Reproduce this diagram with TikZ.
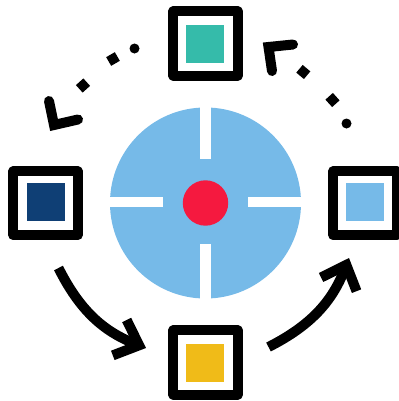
\documentclass[tikz,border=0pt]{standalone}
\usetikzlibrary{arrows.meta}
\definecolor{skyblue}{HTML}{76BAE8}
\definecolor{navyblue}{HTML}{0F3F75}
\definecolor{tealgreen}{HTML}{35BBAA}
\definecolor{amber}{HTML}{F0BB18}
\definecolor{targetred}{HTML}{F5193F}
\begin{document}
\begin{tikzpicture}[x=0.025cm,y=-0.025cm]

\tikzstyle{frame}=[shape=rectangle, draw=black, fill=white,
    line width=0.25cm, line join=round, minimum size=1.6cm, inner sep=0pt]
\tikzstyle{swatch}=[shape=rectangle, minimum size=0.95cm, inner sep=0pt]
\tikzstyle{slot}=[shape=rectangle, fill=white, inner sep=0pt]
\tikzstyle{dot}=[shape=circle, fill=black, minimum size=0.25cm, inner sep=0pt]
\tikzstyle{chip}=[shape=rectangle, fill=black, minimum size=0.25cm, inner sep=0pt]
\tikzstyle{flow}=[line width=0.25cm, >={Straight Barb[length=0.52cm,width=0.95cm,line width=0.25cm]}]
\tikzstyle{barb}=[line width=0.25cm, line cap=round, line join=miter]

  \clip (0,0) rectangle (399,401);

  % target
  \node[shape=circle, fill=skyblue, minimum size=4.775cm, inner sep=0pt] (disc) at (205.5,203) {};
  \node[slot, minimum width=0.285cm, minimum height=1.3cm] (slottop) at (205.5,133) {};
  \node[slot, minimum width=0.285cm, minimum height=1.4cm] (slotbottom) at (205.5,272) {};
  \node[slot, minimum width=1.4cm, minimum height=0.27cm] (slotleft) at (135,202) {};
  \node[slot, minimum width=1.4cm, minimum height=0.27cm] (slotright) at (276,202) {};
  \node[shape=circle, fill=targetred, minimum size=1.135cm, inner sep=0pt] (bull) at (205.5,203) {};

  % boxes
  \node[frame] (boxtop) at (205.5,43.5) {};
  \node[frame] (boxleft) at (45.5,203.3) {};
  \node[frame] (boxright) at (365.3,203.3) {};
  \node[frame] (boxbottom) at (205.5,362.5) {};
  \node[swatch, fill=tealgreen] (teal) at (205,44) {};
  \node[swatch, fill=navyblue] (navy) at (46,202) {};
  \node[swatch, fill=skyblue] (sky) at (365,202) {};
  \node[swatch, fill=amber] (yellow) at (205,363) {};

  % solid arrows
  \coordinate (startleft) at (58.5,268);
  \coordinate (endleft) at (146,348);
  \coordinate (startright) at (268.5,347);
  \coordinate (endright) at (349,258);
  \draw[flow,->] (startleft) to[bend right=21] (endleft);
  \draw[flow,->] (startright) to[bend right=21] (endright);

  % dotted arrow top left
  \node[dot] (dotleft) at (134.5,48.5) {};
  \node[chip, rotate=30] (chipleftb) at (113,59) {};
  \node[chip, rotate=42] (chiplefta) at (83,85.5) {};
  \coordinate (wingleftb) at (49,101);
  \coordinate (tipleft) at (54,125);
  \coordinate (winglefta) at (78,119.5);
  \draw[barb] (wingleftb) -- (tipleft) -- (winglefta);

  % dotted arrow top right
  \node[dot] (dotright) at (346.5,123.5) {};
  \node[chip, rotate=42] (chiprightb) at (332.5,100) {};
  \node[chip, rotate=50] (chiprighta) at (303.3,72) {};
  \coordinate (wingrightb) at (293,44.5);
  \coordinate (tipright) at (268.5,47);
  \coordinate (wingrighta) at (272,71);
  \draw[barb] (wingrightb) -- (tipright) -- (wingrighta);

\end{tikzpicture}
\end{document}
